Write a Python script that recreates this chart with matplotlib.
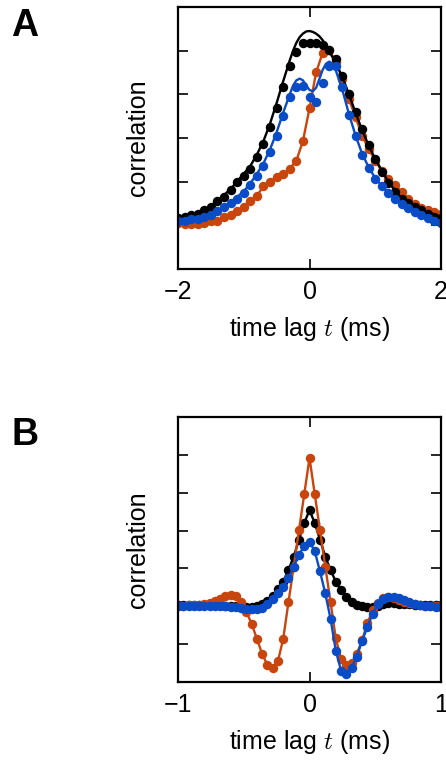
import numpy as np
import matplotlib
matplotlib.use('Agg')
import matplotlib.pyplot as plt

plt.rcParams['font.family'] = ['Liberation Sans', 'DejaVu Sans']
plt.rcParams['mathtext.fontset'] = 'cm'

ORANGE = '#c8460e'
BLUE = '#0a4bc6'
BLACK = '#000000'

# ---- panel A: lag grid of the measured points (ms), 0.1 ms steps
lag_a = np.linspace(-2.0, 2.0, 41)

black_pts_a = [0.16, 0.20, 0.23, 0.27, 0.34, 0.43, 0.55, 0.66, 0.80, 1.00,
               1.14, 1.30, 1.57, 1.86, 2.25, 2.68, 3.16, 3.64, 3.98, 4.18,
               4.18, 4.18, 4.14, 4.02, 3.80, 3.43, 3.00, 2.59, 2.20, 1.84,
               1.52, 1.23, 0.98, 0.77, 0.61, 0.50, 0.41, 0.34, 0.27, 0.20,
               0.16]
orange_pts_a = [0.05, 0.02, 0.02, 0.02, 0.05, 0.09, 0.11, 0.18, 0.23, 0.32,
                0.41, 0.55, 0.68, 0.89, 1.00, 1.11, 1.18, 1.30, 1.48, 1.93,
                2.68, 3.50, 3.95, 4.02, 3.75, 3.34, 2.89, 2.48, 2.05, 1.75,
                1.48, 1.25, 1.07, 0.93, 0.77, 0.61, 0.48, 0.39, 0.34, 0.30,
                0.25]
blue_pts_a = [0.11, 0.11, 0.14, 0.14, 0.20, 0.23, 0.32, 0.41, 0.50, 0.61,
              0.75, 0.93, 1.14, 1.36, 1.68, 2.05, 2.50, 2.93, 3.16, 3.18,
              2.93, 2.82, 3.27, 3.66, 3.64, 3.16, 2.52, 2.05, 1.61, 1.32,
              1.07, 0.89, 0.73, 0.61, 0.48, 0.39, 0.30, 0.23, 0.16, 0.11,
              0.05]

# model curves for panel A
lag_model = [-2.0, -1.8, -1.6, -1.4, -1.2, -1.0, -0.9, -0.8, -0.7, -0.6,
             -0.5, -0.4, -0.3, -0.25, -0.2, -0.15, -0.1, -0.05, 0.0, 0.05,
             0.1, 0.15, 0.2, 0.25, 0.3, 0.35, 0.4, 0.5, 0.6, 0.7,
             0.8, 0.9, 1.0, 1.2, 1.4, 1.6, 1.8, 2.0]
black_model = [0.15, 0.22, 0.34, 0.56, 0.83, 1.18, 1.36, 1.62, 1.93, 2.33,
               2.80, 3.30, 3.78, 4.00, 4.18, 4.31, 4.39, 4.44, 4.45, 4.43,
               4.39, 4.33, 4.24, 4.12, 3.98, 3.85, 3.72, 3.40, 3.00, 2.58,
               2.18, 1.83, 1.52, 0.99, 0.62, 0.40, 0.26, 0.16]
blue_model = [0.10, 0.14, 0.20, 0.33, 0.52, 0.78, 0.96, 1.18, 1.42, 1.74,
              2.13, 2.58, 3.00, 3.20, 3.32, 3.36, 3.32, 3.20, 3.10, 3.07,
              3.15, 3.35, 3.56, 3.70, 3.75, 3.70, 3.55, 3.10, 2.55, 2.06,
              1.64, 1.33, 1.08, 0.73, 0.47, 0.30, 0.17, 0.06]

# ---- panel B: lag grid (ms), 0.04 ms steps
lag_b = np.linspace(-1.0, 1.0, 51)

black_b = [0.03, 0.03, 0.03, 0.03, 0.03, 0.03, 0.03, 0.03, 0.03, 0.02,
           0.01, 0.00, -0.01, -0.02, -0.02, 0.01, 0.07, 0.15, 0.27, 0.45,
           0.65, 0.96, 1.31, 1.76, 2.20, 2.54, 2.20, 1.76, 1.31, 0.96,
           0.65, 0.42, 0.24, 0.11, 0.04, 0.00, -0.02, -0.02, 0.01, 0.05,
           0.08, 0.08, 0.07, 0.06, 0.05, 0.04, 0.04, 0.03, 0.03, 0.03,
           0.03]
orange_b = [0.02, 0.02, 0.03, 0.03, 0.04, 0.05, 0.08, 0.14, 0.20, 0.27,
            0.30, 0.27, 0.12, -0.15, -0.46, -0.86, -1.26, -1.55, -1.62, -1.45,
            -0.86, 0.11, 1.05, 2.01, 2.96, 3.92, 2.96, 2.01, 1.05, 0.11,
            -0.85, -1.40, -1.55, -1.50, -1.25, -0.90, -0.45, -0.10, 0.10, 0.22,
            0.25, 0.22, 0.17, 0.12, 0.08, 0.05, 0.03, 0.02, 0.01, 0.00,
            0.00]
blue_b = [0.02, 0.02, 0.02, 0.02, 0.02, 0.02, 0.01, 0.01, 0.00, 0.00,
          -0.01, -0.02, -0.04, -0.06, -0.08, -0.08, -0.04, 0.05, 0.19, 0.35,
          0.51, 0.74, 1.05, 1.36, 1.60, 1.71, 1.45, 0.92, 0.34, -0.33,
          -1.17, -1.70, -1.80, -1.62, -1.33, -0.91, -0.55, -0.20, 0.07, 0.20,
          0.25, 0.25, 0.21, 0.16, 0.11, 0.07, 0.04, 0.02, 0.00, -0.01,
          -0.02]

fig = plt.figure(figsize=(4.46, 7.60), dpi=100)
ax_a = fig.add_axes([178 / 446, 1 - 269 / 760, 263 / 446, 262 / 760])
ax_b = fig.add_axes([178 / 446, 1 - 682 / 760, 263 / 446, 265 / 760])

ms = 6.8
lw = 1.7

# panel A
ax_a.plot(lag_a, orange_pts_a, 'o-', color=ORANGE, ms=ms, lw=lw, mew=0)
ax_a.plot(lag_model, black_model, '-', color=BLACK, lw=lw)
ax_a.plot(lag_a, black_pts_a, 'o', color=BLACK, ms=ms, mew=0)
ax_a.plot(lag_model, blue_model, '-', color=BLUE, lw=lw)
ax_a.plot(lag_a, blue_pts_a, 'o', color=BLUE, ms=ms, mew=0)
ax_a.set_xlim(-2, 2)
ax_a.set_ylim(-1, 5)
ax_a.set_xticks([-2, 0, 2])
ax_a.set_yticks([0, 1, 2, 3, 4])

# panel B
ax_b.plot(lag_b, black_b, 'o-', color=BLACK, ms=ms, lw=lw, mew=0)
ax_b.plot(lag_b, orange_b, 'o-', color=ORANGE, ms=ms, lw=lw, mew=0)
ax_b.plot(lag_b, blue_b, 'o-', color=BLUE, ms=ms, lw=lw, mew=0)
ax_b.set_xlim(-1, 1)
ax_b.set_ylim(-2, 5)
ax_b.set_xticks([-1, 0, 1])
ax_b.set_yticks([-1, 0, 1, 2, 3, 4])

for ax in (ax_a, ax_b):
    for s in ax.spines.values():
        s.set_linewidth(1.6)
    ax.tick_params(direction='in', length=7, width=1.2, top=True, right=True,
                   labelsize=18, pad=8)
    ax.set_yticklabels([])
    ax.set_xlabel('time lag $t$ (ms)', fontsize=18, labelpad=8)
    ax.set_ylabel('correlation', fontsize=18)
    ax.yaxis.set_label_coords(-0.105, 0.5)

fig.text(11 / 446, 1 - 36 / 760, 'A', fontsize=27, fontweight='bold')
fig.text(11 / 446, 1 - 445 / 760, 'B', fontsize=27, fontweight='bold')

fig.savefig('out.png', dpi=100)
